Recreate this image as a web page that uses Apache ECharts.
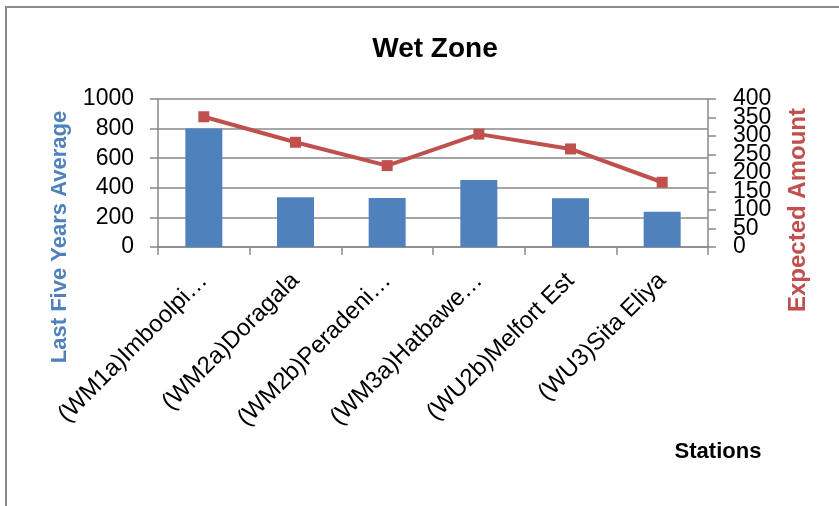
<!DOCTYPE html>
<html>
<head>
<meta charset="utf-8">
<script src="https://cdn.jsdelivr.net/npm/echarts@6/dist/echarts.min.js"></script>
<style>html,body{margin:0;padding:0;background:#fff;}#c{width:839px;height:506px;}</style>
</head>
<body>
<div id="c"></div>
<script>
const categories = ['(WM1a)Imboolpi…', '(WM2a)Doragala', '(WM2b)Peradeni…', '(WM3a)Hatbawe…', '(WU2b)Melfort Est', '(WU3)Sita Eliya'];
const lastFiveYearsAverage = [800, 336, 331, 453, 329, 239];
const expectedAmount = [352, 283, 220, 305, 265, 175];
const leftTicks = [0, 200, 400, 600, 800, 1000];
const rightTicks = [0, 50, 100, 150, 200, 250, 300, 350, 400];

const FONT = 'Liberation Sans';
const GRID = '#898989';
const BLUE = '#4F81BD';
const RED = '#C0504D';

const rightEven = rightTicks.filter((v, i) => i % 2 === 0);
const rightOdd = rightTicks.filter((v, i) => i % 2 === 1);
const rMin = rightTicks[0], rMax = rightTicks[rightTicks.length - 1];

const chart = echarts.init(document.getElementById('c'), null, { renderer: 'canvas' });
chart.setOption({
  backgroundColor: '#fff',
  animation: false,
  textStyle: { fontFamily: FONT },
  title: {
    text: 'Wet Zone',
    left: 430, top: 30, textAlign: 'center',
    textStyle: { fontFamily: FONT, fontSize: 28, fontWeight: 'bold', color: '#000' }
  },
  grid: { left: 158, right: 131, top: 99, bottom: 259, containLabel: false },
  xAxis: {
    type: 'category',
    data: categories,
    axisLine: { lineStyle: { color: GRID, width: 1.5 } },
    axisTick: { show: true, length: 8, alignWithLabel: false, lineStyle: { color: GRID, width: 1.5 } },
    axisLabel: { rotate: 45, fontSize: 24, color: '#000', margin: 30, interval: 0, fontFamily: FONT }
  },
  yAxis: [
    {
      type: 'value', min: leftTicks[0], max: leftTicks[leftTicks.length - 1], interval: leftTicks[1] - leftTicks[0],
      axisLine: { show: true, lineStyle: { color: GRID, width: 1.5 } },
      axisTick: { show: true, length: 8, lineStyle: { color: GRID, width: 1.5 } },
      splitLine: { show: true, lineStyle: { color: GRID, width: 1.5 } },
      axisLabel: { fontSize: 23, color: '#000', margin: 24, fontFamily: FONT,
        formatter: v => String(v), showMinLabel: true, showMaxLabel: true }
    },
    {
      type: 'value', min: rMin, max: rMax, interval: rightTicks[1] - rightTicks[0],
      position: 'right', offset: 0,
      axisLine: { show: true, lineStyle: { color: GRID, width: 1.5 } },
      axisTick: { show: true, length: 8, customValues: rightTicks, lineStyle: { color: GRID, width: 1.5 } },
      splitLine: { show: false },
      axisLabel: { fontSize: 23, color: '#000', margin: 25, fontFamily: FONT,
        customValues: rightEven, formatter: v => String(v), showMinLabel: true, showMaxLabel: true }
    },
    {
      type: 'value', min: rMin, max: rMax, interval: rightTicks[1] - rightTicks[0],
      position: 'right', offset: 0,
      axisLine: { show: false },
      axisTick: { show: false },
      splitLine: { show: false },
      axisLabel: { fontSize: 23, color: '#000', margin: 25, fontFamily: FONT,
        customValues: rightOdd, formatter: v => String(v), showMinLabel: true, showMaxLabel: true }
    }
  ],
  series: [
    {
      name: 'Last Five Years Average', type: 'bar', yAxisIndex: 0,
      data: lastFiveYearsAverage, barWidth: 37,
      itemStyle: { color: BLUE }
    },
    {
      name: 'Expected Amount', type: 'line', yAxisIndex: 1,
      data: expectedAmount,
      lineStyle: { color: RED, width: 4 },
      itemStyle: { color: RED },
      symbol: 'rect', symbolSize: 11, showAllSymbol: true
    }
  ],
  graphic: [
    { type: 'rect', shape: { x: 6, y: 7, width: 900, height: 600 }, style: { fill: null, stroke: GRID, lineWidth: 2 }, z: -1, silent: true },
    { type: 'text', x: 60, y: 237, rotation: Math.PI / 2,
      style: { text: 'Last Five Years Average', x: 0, y: 0, textAlign: 'center', textVerticalAlign: 'middle', fill: BLUE, font: 'bold 22px "Liberation Sans"' } },
    { type: 'text', x: 798, y: 210, rotation: Math.PI / 2,
      style: { text: 'Expected Amount', x: 0, y: 0, textAlign: 'center', textVerticalAlign: 'middle', fill: RED, font: 'bold 24px "Liberation Sans"' } },
    { type: 'text', x: 718, y: 452,
      style: { text: 'Stations', x: 0, y: 0, textAlign: 'center', textVerticalAlign: 'middle', fill: '#000', font: 'bold 22px "Liberation Sans"' } }
  ]
});
</script>
</body>
</html>
